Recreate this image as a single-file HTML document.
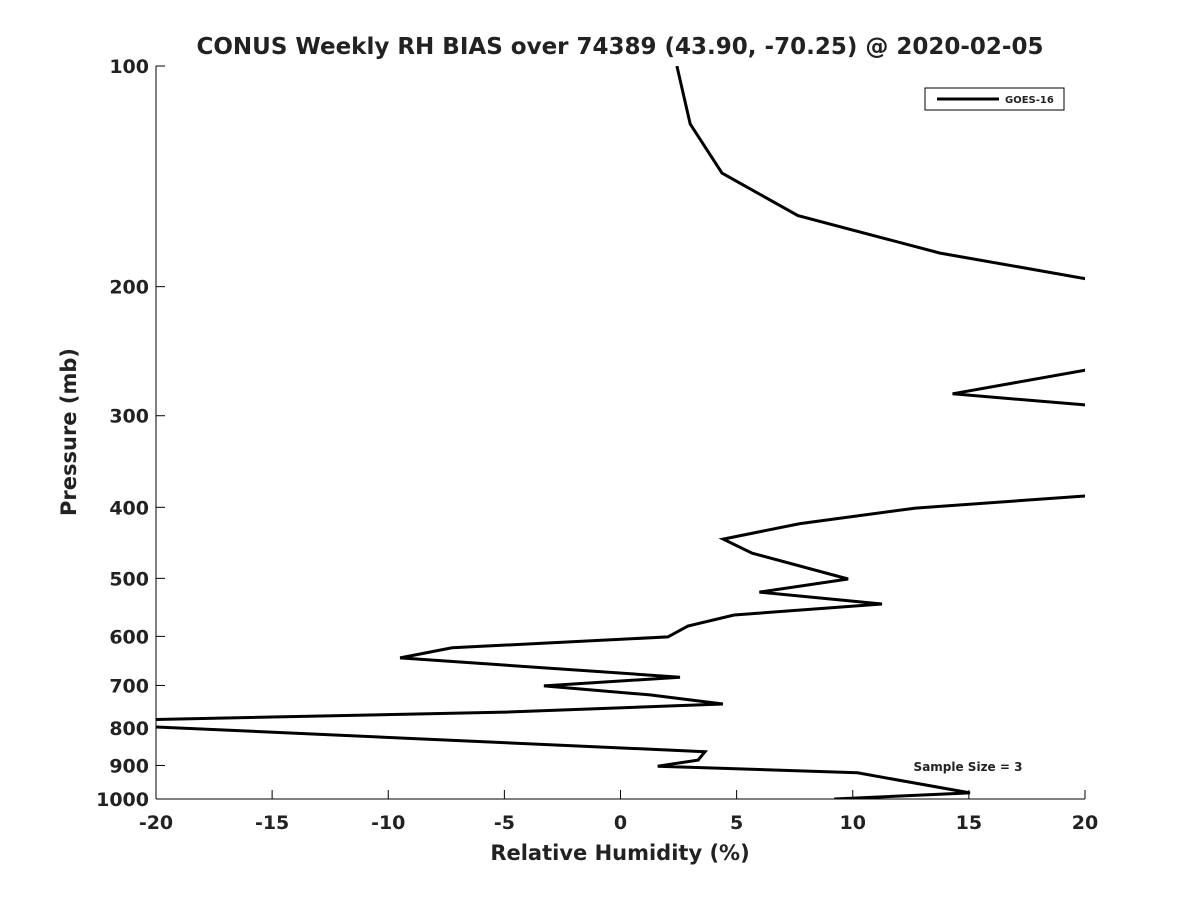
<!DOCTYPE html>
<html><head><meta charset="utf-8"><style>
body{margin:0;background:#fff;}
text{font-family:"DejaVu Sans","Liberation Sans",sans-serif;font-weight:bold;fill:#222;}
</style></head><body>
<svg width="1200" height="900">
<rect width="1200" height="900" fill="#fff"/>
<defs><clipPath id="plotclip"><rect x="156" y="66" width="929" height="733"/></clipPath></defs>
<text x="620" y="54" text-anchor="middle" font-size="23" fill="#000">CONUS Weekly RH BIAS over 74389 (43.90, -70.25) @ 2020-02-05</text>
<g id="axes"></g>
<g clip-path="url(#plotclip)"><path id="series" fill="none" stroke="#000" stroke-width="3"/></g>
<g>
<rect x="925" y="88" width="139" height="22" fill="#fff" stroke="#000" stroke-width="1"/>
<line x1="937" y1="99" x2="999" y2="99" stroke="#000" stroke-width="3"/>
<text x="1005" y="103" font-size="10">GOES-16</text>
</g>
<text x="968" y="771" text-anchor="middle" font-size="12" fill="#000">Sample Size = 3</text>
<text x="620" y="860" text-anchor="middle" font-size="21">Relative Humidity (%)</text>
<text transform="translate(76,432) rotate(-90)" text-anchor="middle" font-size="21">Pressure (mb)</text>
</svg>
<script>
const xTicks=[-20,-15,-10,-5,0,5,10,15,20];
const yTicks=[100,200,300,400,500,600,700,800,900,1000];
const rhBias=[2.43,3.0,4.37,7.64,13.76,20,24,20,14.3,20,25,20,12.7,7.73,4.42,5.67,9.8,5.98,11.26,4.89,2.9,2.04,-7.25,-9.49,2.56,-3.3,1.27,4.41,-4.97,-25,-17.2,3.64,3.34,1.6,10.2,15.05,9.2];
const pressure=[100,120,140,160,180,195,225,260,280,290,340,386,401,421,442,462,501,522,542,561,581,601,622,642,682,701,721,742,761,785,805,862,885,902,921,981,1000];
const X0=156,X1=1085,Y0=66,Y1=799;
const xs=v=>X0+(v+20)/40*(X1-X0);
const ys=p=>Y0+(Math.log10(p)-2)*(Y1-Y0);
const NS="http://www.w3.org/2000/svg";
const ax=document.getElementById('axes');
function mk(t,a){const e=document.createElementNS(NS,t);for(const k in a)e.setAttribute(k,a[k]);ax.appendChild(e);return e;}
let l=mk('line',{x1:X0,y1:Y0,x2:X0,y2:Y1,stroke:'#000','stroke-width':1});


l=mk('line',{x1:X0,y1:Y1,x2:X1,y2:Y1,stroke:'#000','stroke-width':1});


xTicks.forEach(v=>{const x=xs(v);
 const t=mk('line',{x1:x,y1:Y1,x2:x,y2:Y1-9,stroke:'#000'});
 
 
 const tx=mk('text',{x:x,y:Y1+30,'text-anchor':'middle','font-size':19});tx.textContent=v;
 
 
});
yTicks.forEach(p=>{const y=ys(p);
 const t=mk('line',{x1:X0,y1:y,x2:X0+9,y2:y,stroke:'#000'});
 
 
 const tx=mk('text',{x:X0-7,y:y+7,'text-anchor':'end','font-size':19});tx.textContent=p;
 
 
});
document.getElementById('series').setAttribute('d',rhBias.map((v,i)=>(i?'L':'M')+xs(v).toFixed(1)+','+ys(pressure[i]).toFixed(1)).join(''));
</script>
</body></html>
